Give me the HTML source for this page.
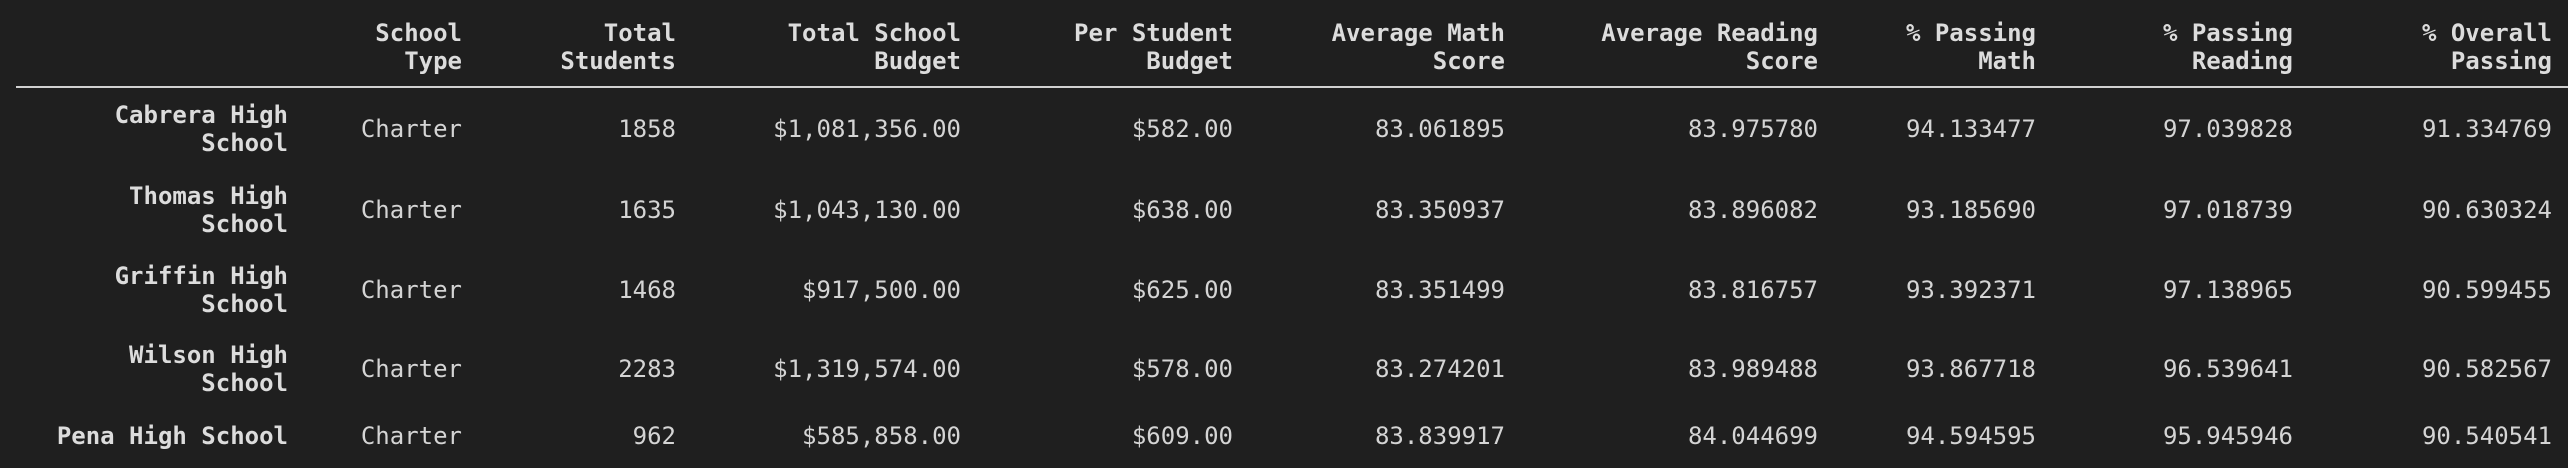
<!DOCTYPE html>
<html><head><meta charset="utf-8"><style>
html,body{margin:0;padding:0;}
body{width:2568px;height:468px;background:#1f1f1f;position:relative;overflow:hidden;
font-family:"DejaVu Sans Mono","Liberation Mono",monospace;font-size:24px;color:#d4d4d4;}
.c{position:absolute;text-align:right;white-space:nowrap;line-height:28px;transform:translateY(-50%);}
.b{font-weight:bold;color:#dcdcdc;}
#rule{position:absolute;left:16px;width:2552px;top:86px;height:2px;background:#d0d0d0;}
</style></head><body>
<div id="rule"></div>
<script>
const columns=["School<br>Type","Total<br>Students","Total School<br>Budget","Per Student<br>Budget","Average Math<br>Score","Average Reading<br>Score","% Passing<br>Math","% Passing<br>Reading","% Overall<br>Passing"];
const schools=["Cabrera High<br>School","Thomas High<br>School","Griffin High<br>School","Wilson High<br>School","Pena High School"];
const schoolType=["Charter","Charter","Charter","Charter","Charter"];
const totalStudents=["1858","1635","1468","2283","962"];
const totalBudget=["$1,081,356.00","$1,043,130.00","$917,500.00","$1,319,574.00","$585,858.00"];
const perStudent=["$582.00","$638.00","$625.00","$578.00","$609.00"];
const avgMath=["83.061895","83.350937","83.351499","83.274201","83.839917"];
const avgReading=["83.975780","83.896082","83.816757","83.989488","84.044699"];
const passMath=["94.133477","93.185690","93.392371","93.867718","94.594595"];
const passReading=["97.039828","97.018739","97.138965","96.539641","95.945946"];
const passOverall=["91.334769","90.630324","90.599455","90.582567","90.540541"];
const rights=[462,676,961,1233,1505,1818,2036,2293,2552];
const rowY=[129,210,290,369,436];
const series=[schoolType,totalStudents,totalBudget,perStudent,avgMath,avgReading,passMath,passReading,passOverall];
function place(html,right,y,cls){
  const d=document.createElement('div');
  d.className='c '+cls;
  d.innerHTML=html;
  d.style.right=(2568-right)+'px';
  d.style.top=y+'px';
  document.body.appendChild(d);
  return d;
}
columns.forEach((h,i)=>{
  const d=place(h,rights[i],47,'b');
  
  
});
schools.forEach((s,r)=>{
  const d=place(s,288,rowY[r],'b');
  
  
  series.forEach((col,i)=>{
    const e=place(col[r],rights[i],rowY[r],'');
    
    
  });
});
</script>
</body></html>
